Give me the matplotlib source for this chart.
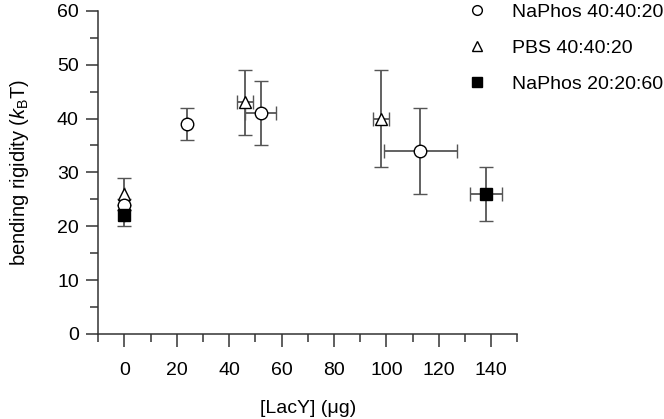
import matplotlib
matplotlib.use("Agg")
import matplotlib.pyplot as plt
from matplotlib.lines import Line2D
from matplotlib.ticker import MultipleLocator

plt.rcParams['font.family'] = ['Liberation Sans', 'DejaVu Sans']
plt.rcParams['mathtext.fontset'] = 'custom'
plt.rcParams['mathtext.rm'] = 'Liberation Sans'
plt.rcParams['mathtext.it'] = 'Liberation Sans:italic'

# NaPhos 40:40:20
na40_x = [0, 24, 52, 113]
na40_y = [24, 39, 41, 34]
na40_xerr = [0, 0, 6, 14]
na40_yerr = [1, 3, 6, 8]

# PBS 40:40:20
pbs_x = [0, 46, 98]
pbs_y = [26, 43, 40]
pbs_xerr = [0, 3, 3]
pbs_yerr = [3, 6, 9]

# NaPhos 20:20:60
na20_x = [0, 138]
na20_y = [22, 26]
na20_xerr = [0, 6]
na20_yerr = [2, 5]

labels = ["NaPhos 40:40:20", "PBS 40:40:20", "NaPhos 20:20:60"]

fig = plt.figure(figsize=(6.64, 4.19), dpi=100)
ax = fig.add_axes([0.148, 0.203, 0.631, 0.771])

err_kw = dict(ls='none', ecolor='#555555', elinewidth=1.3, capsize=5, capthick=1.3,
              mec='black', mew=1.0, ms=9, zorder=3)
ax.errorbar(pbs_x, pbs_y, xerr=pbs_xerr, yerr=pbs_yerr, marker='^', mfc='white', **err_kw)
ax.errorbar(na40_x, na40_y, xerr=na40_xerr, yerr=na40_yerr, marker='o', mfc='white', **err_kw)
ax.errorbar(na20_x, na20_y, xerr=na20_xerr, yerr=na20_yerr, marker='s', mfc='black', **err_kw)

ax.set_xlim(-10, 150)
ax.set_ylim(0, 60)
ax.xaxis.set_minor_locator(MultipleLocator(10))
ax.yaxis.set_major_locator(MultipleLocator(10))
ax.yaxis.set_minor_locator(MultipleLocator(5))
ax.set_xticks(range(0, 141, 20))

for s in ['top', 'right']:
    ax.spines[s].set_visible(False)
for s in ['left', 'bottom']:
    ax.spines[s].set_color('#333333')
    ax.spines[s].set_linewidth(1.1)
ax.tick_params(which='major', length=9, width=1.1, color='#333333', labelsize=14)
ax.tick_params(which='minor', length=6, width=1.1, color='#333333')
ax.tick_params(axis='x', which='major', pad=11)
ax.tick_params(axis='y', which='major', pad=5)

ax.set_xlabel("[LacY] (μg)", fontsize=14, labelpad=15)
ax.set_ylabel("bending rigidity ($\\mathit{k}_{\\mathrm{B}}$T)", fontsize=14.5, labelpad=19)

handles = [
    Line2D([], [], ls='none', marker='o', mfc='white', mec='black', ms=7),
    Line2D([], [], ls='none', marker='^', mfc='white', mec='black', ms=7),
    Line2D([], [], ls='none', marker='s', mfc='black', mec='black', ms=7),
]
fig.legend(handles, labels, loc='upper left', bbox_to_anchor=(458 / 664, 1 - 3 / 419),
           frameon=False, fontsize=14, labelspacing=0.95, handletextpad=0.8,
           borderaxespad=0, borderpad=0)

fig.savefig("out.png", dpi=100)
